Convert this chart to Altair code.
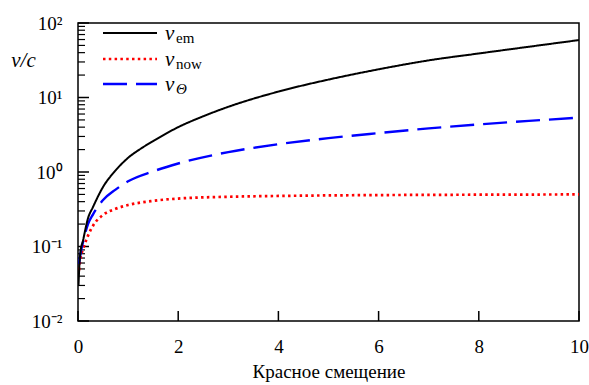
import altair as alt
import pandas as pd

# ---- data ----
z_em = [0.01, 0.03, 0.05, 0.1, 0.2, 0.3, 0.5, 0.75, 1.0, 1.25, 1.5, 2.0, 2.5, 3.0, 4.0, 5.0, 6.0, 7.0, 8.0, 9.0, 10.0]
v_em = [0.03, 0.06, 0.085, 0.12, 0.24, 0.34, 0.63, 1.05, 1.55, 2.05, 2.6, 4.0, 5.6, 7.5, 12.0, 17.4, 23.9, 31.5, 39.0, 48.0, 59.0]

z_now = [0.02, 0.05, 0.1, 0.2, 0.3, 0.5, 0.75, 1.0, 1.5, 2.0, 3.0, 4.0, 5.0, 6.0, 7.0, 8.0, 9.0, 10.0]
v_now = [0.048, 0.07, 0.092, 0.14, 0.19, 0.265, 0.32, 0.36, 0.41, 0.44, 0.465, 0.477, 0.485, 0.49, 0.493, 0.496, 0.498, 0.5]

z_th = [0.02, 0.05, 0.1, 0.2, 0.3, 0.5, 0.75, 1.0, 1.5, 2.0, 3.0, 4.0, 5.0, 6.0, 7.0, 8.0, 9.0, 10.0]
v_th = [0.058, 0.08, 0.115, 0.2, 0.27, 0.42, 0.58, 0.75, 1.02, 1.3, 1.85, 2.36, 2.85, 3.33, 3.85, 4.35, 4.85, 5.36]

series_subs = ["em", "now", "Θ"]
series_colors = ["#000000", "#ff0000", "#0000ff"]

x_ticks = [0, 2, 4, 6, 8, 10]
y_major = [0.01, 0.1, 1, 10, 100]
y_minor = [m * 10.0 ** e for e in range(-2, 2) for m in range(2, 10)]

FONT = "Liberation Serif"

xs = alt.Scale(domain=[0, 10], nice=False, zero=False)
ys = alt.Scale(type="log", domain=[0.01, 100], nice=False)

x_axis = alt.Axis(values=x_ticks, title="Красное смещение", ticks=False, domain=False, grid=False,
                  labelFont=FONT, labelFontSize=19, labelPadding=16, labelFlush=False,
                  labelOverlap=False, labelColor="black", format="d",
                  titleFont=FONT, titleFontSize=19, titleFontWeight="normal", titleColor="black",
                  titleY=56, titleBaseline="alphabetic")
y_axis = alt.Axis(values=y_major, ticks=False, domain=False, grid=False,
                  labelExpr="'10' + ['⁻²','⁻¹','⁰','¹','²'][round(log(datum.value)/LN10)+2]",
                  labelFont=FONT, labelFontSize=19, labelPadding=16, labelFlush=False,
                  labelOverlap=False, labelColor="black",
                  title="v/c", titleAngle=0, titleX=-55, titleY=37, titleAlign="center",
                  titleBaseline="middle", titleFont=FONT, titleFontStyle="italic", titleFontSize=21,
                  titleFontWeight="normal", titleColor="black")


def line_layer(zv, vv, color, dash, width):
    df = pd.DataFrame({"z": zv, "v": vv})
    return alt.Chart(df).mark_line(interpolate="monotone", color=color, strokeDash=dash,
                                   strokeWidth=width, clip=True).encode(
        x=alt.X("z:Q", scale=xs, axis=x_axis),
        y=alt.Y("v:Q", scale=ys, axis=y_axis),
    )


red = line_layer(z_now, v_now, series_colors[1], [2.5, 3.3], 2.7)
blue = line_layer(z_th, v_th, series_colors[2], [24, 9], 2.4)
black = line_layer(z_em, v_em, series_colors[0], [1, 0], 2)

ymaj = alt.Chart(pd.DataFrame({"v": y_major})).mark_rule(color="black", strokeWidth=1.5).encode(
    y=alt.Y("v:Q", scale=ys, axis=y_axis), x=alt.value(0), x2=alt.value(11))
ymin = alt.Chart(pd.DataFrame({"v": y_minor})).mark_rule(color="black", strokeWidth=1.2).encode(
    y=alt.Y("v:Q", scale=ys, axis=y_axis), x=alt.value(0), x2=alt.value(7))
xmaj = alt.Chart(pd.DataFrame({"z": x_ticks})).mark_rule(color="black", strokeWidth=1.5).encode(
    x=alt.X("z:Q", scale=xs, axis=x_axis), y=alt.value(298), y2=alt.value(288))

legend_layers = []
styles = [([1, 0], 2), ([2.5, 3.3], 2.7), ([24, 9], 2.4)]
legend_y = [10, 36, 61]
for i, sub in enumerate(series_subs):
    yy = legend_y[i]
    dash, w = styles[i]
    one = pd.DataFrame({"s": [sub]})
    legend_layers.append(
        alt.Chart(one).mark_rule(color=series_colors[i], strokeDash=dash, strokeWidth=w).encode(
            x=alt.value(25), x2=alt.value(79), y=alt.value(yy)))
    legend_layers.append(
        alt.Chart(one).mark_text(text="v", font=FONT, fontStyle="italic", fontSize=21,
                                 align="left", baseline="alphabetic", color="black").encode(
            x=alt.value(87), y=alt.value(yy + 7)))
    legend_layers.append(
        alt.Chart(one).mark_text(font=FONT, fontStyle=("italic" if sub == "Θ" else "normal"),
                                 fontSize=15, align="left", baseline="alphabetic",
                                 color="black").encode(
            x=alt.value(98), y=alt.value(yy + 10), text="s:N"))

chart = alt.layer(ymin, ymaj, xmaj, red, blue, black, *legend_layers).properties(
    width=501, height=298,
    autosize=alt.AutoSizeParams(type="none"),
    padding={"left": 78, "top": 23, "right": 10, "bottom": 64},
).configure(font=FONT, background="white").configure_view(
    stroke="black", strokeWidth=1.5
).configure_axis(labelFont=FONT, titleFont=FONT).configure_text(font=FONT)

chart.save("out.html", embed_options={"renderer": "svg", "actions": False})
